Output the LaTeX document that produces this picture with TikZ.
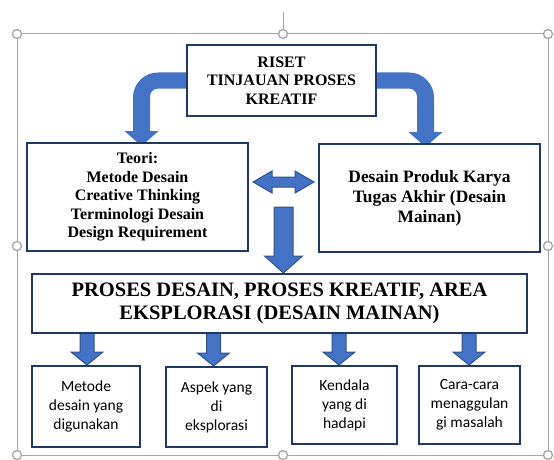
\documentclass[tikz,border=0pt]{standalone}
\usepackage{fontspec}
\setmainfont{Liberation Serif}
\newfontfamily\calibfont{Carlito}
\usetikzlibrary{calc,backgrounds}
\definecolor{boxline}{HTML}{1F3864}
\definecolor{arrfill}{HTML}{4472C4}
\definecolor{arrline}{HTML}{2F528F}
\definecolor{frameg}{HTML}{A6A6A6}
\tikzset{
  box/.style={draw=boxline, line width=2pt, fill=white, inner sep=0pt, align=center, text=black},
  serifbox/.style={box, font=\bfseries\fontsize{16}{18.5}\selectfont},
  bigserif/.style={box, font=\bfseries\fontsize{17.4}{20}\selectfont},
  hugeserif/.style={box, font=\bfseries\fontsize{20.5}{23}\selectfont},
  sansbox/.style={box, font=\calibfont\fontsize{15.5}{19}\selectfont},
  blk/.style={fill=arrfill, draw=arrline, line width=1pt, line join=miter},
  blkc/.style={fill=arrfill},
  frameline/.style={draw=frameg, line width=1pt},
  handle/.style={draw=frameg, line width=1.3pt, fill=white}
}
% straight down block arrow: start, tip, shaft half, head half, head length
\newcommand\blkdown[5]{%
  \filldraw[blk] let \p1=#1, \p2=#2 in
    ({\x1-#3pt},\y1) -- ({\x1+#3pt},\y1) -- ({\x1+#3pt},{\y2+#5pt}) -- ({\x1+#4pt},{\y2+#5pt})
    -- (\x1,\y2) -- ({\x1-#4pt},{\y2+#5pt}) -- ({\x1-#3pt},{\y2+#5pt}) -- cycle;}
% horizontal double block arrow: left end, right end, shaft half, head half, head length
\newcommand\blkdouble[5]{%
  \filldraw[blk] let \p1=#1, \p2=#2 in
    (\x1,\y1) -- ({\x1+#5pt},{\y1+#4pt}) -- ({\x1+#5pt},{\y1+#3pt}) -- ({\x2-#5pt},{\y1+#3pt})
    -- ({\x2-#5pt},{\y1+#4pt}) -- (\x2,\y1) -- ({\x2-#5pt},{\y1-#4pt}) -- ({\x2-#5pt},{\y1-#3pt})
    -- ({\x1+#5pt},{\y1-#3pt}) -- ({\x1+#5pt},{\y1-#4pt}) -- cycle;}
% bent block arrow: start (on box side), tip, direction sign (-1 left, +1 right)
\newcommand\blkbent[3]{%
  \fill[blkc] let \p1=#1, \p2=#2 in
    (\x1,{\y1+8pt}) -- ({\x2+(#3)*(8.5pt-25pt)},{\y1+8pt})
    .. controls ({\x2+(#3)*(8.5pt-25pt+13.8pt)},{\y1+8pt}) and ({\x2+(#3)*8.5pt},{\y1+8pt-25pt+13.8pt}) ..
    ({\x2+(#3)*8.5pt},{\y1+8pt-25pt}) -- ({\x2+(#3)*8.5pt},{\y2+15pt}) -- ({\x2+(#3)*17pt},{\y2+15pt})
    -- (\x2,\y2) -- ({\x2-(#3)*17pt},{\y2+15pt}) -- ({\x2-(#3)*8.5pt},{\y2+15pt})
    -- ({\x2-(#3)*8.5pt},{\y1-16pt})
    .. controls ({\x2-(#3)*8.5pt},{\y1-16pt+4.4pt}) and ({\x2-(#3)*(8.5pt+8pt-4.4pt)},{\y1-8pt}) ..
    ({\x2-(#3)*(8.5pt+8pt)},{\y1-8pt}) -- (\x1,{\y1-8pt}) -- cycle;}
\begin{document}
\begin{tikzpicture}[x=1pt,y=-1pt]
\useasboundingbox (0,0) rectangle (554,460);
% boxes
\node[serifbox, minimum width=189pt, minimum height=71pt] (top) at (281.5,80.5)
  {RISET\\TINJAUAN PROSES\\KREATIF};
\node[serifbox, minimum width=221pt, minimum height=108pt] (left) at (137.5,197)
  {Teori:\\Metode Desain\\Creative Thinking\\Terminologi Desain\\Design Requirement};
\node[bigserif, minimum width=221pt, minimum height=108pt] (right) at (429.5,198)
  {Desain Produk Karya\\Tugas Akhir (Desain\\Mainan)};
\node[hugeserif, minimum width=495pt, minimum height=59pt] (big) at (279.5,303.5)
  {PROSES DESAIN, PROSES KREATIF, AREA\\EKSPLORASI (DESAIN MAINAN)};
\node[sansbox, minimum width=108pt, minimum height=81pt] (s1) at (86,406.5)
  {Metode\\desain yang\\digunakan};
\node[sansbox, minimum width=101pt, minimum height=80pt] (s2) at (216.5,407)
  {Aspek yang\\di\\eksplorasi};
\node[sansbox, minimum width=105pt, minimum height=78pt] (s3) at (344.5,405)
  {Kendala\\yang di\\hadapi};
\node[sansbox, minimum width=101pt, minimum height=78pt] (s4) at (469.5,405)
  {Cara-cara\\menaggulan\\gi masalah};
\coordinate (mstart) at (283.5,207);
\begin{scope}[on background layer]
  % selection frame
  \draw[frameline] (17,34) -- (548,34) -- (548,455) -- (17,455) -- cycle;
  \draw[frameline] (283,12) -- (283,29);
  \foreach \p in {(17,34),(283,34),(548,34),(17,246),(548,246),(17,455),(283,455),(548,455)}
    \filldraw[handle] \p circle (4.5pt);
  % bent arrows
  \blkbent{(top.west)}{($(left.north)+(4,4)$)}{-1}
  \blkbent{(top.east)}{($(right.north)+(-4,4)$)}{1}
  % double arrow
  \blkdouble{($(left.east)+(4,-15)$)}{($(right.west)+(-4,-16)$)}{5}{11}{19}
  % main down arrow
  \blkdown{(mstart)}{(mstart |- big.north)}{9.5}{19}{17}
  % small arrows
  \blkdown{($(s1.north |- big.south)+(1,-3)$)}{($(s1.north)+(1,0)$)}{7}{16}{13}
  \blkdown{($(s2.north |- big.south)+(-3,-3)$)}{($(s2.north)+(-3,0)$)}{7}{16}{13}
  \blkdown{($(s3.north |- big.south)+(-5.5,-3)$)}{($(s3.north)+(-5.5,0)$)}{7}{16}{13}
  \blkdown{($(s4.north |- big.south)+(-0.5,-3)$)}{($(s4.north)+(-0.5,0)$)}{7}{16}{13}
\end{scope}
\end{tikzpicture}
\end{document}
